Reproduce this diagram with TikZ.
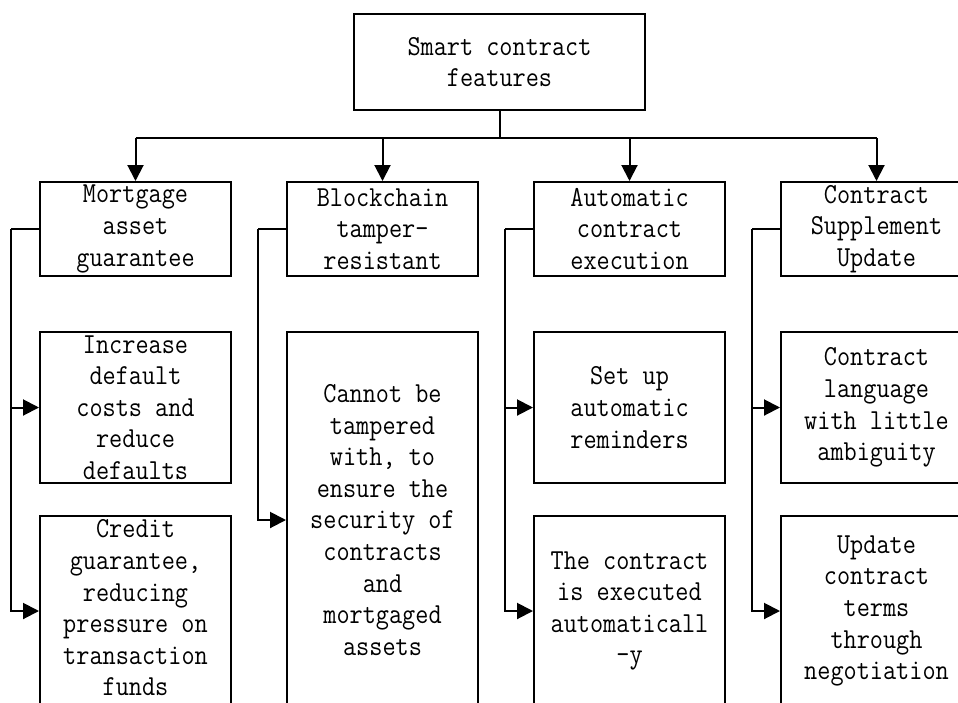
\documentclass[tikz,border=0pt]{standalone}
\usepackage{fontspec}
\newfontfamily\reffont{Latin Modern Mono}[FakeStretch=0.88]
\usetikzlibrary{arrows.meta}
\begin{document}
\begin{tikzpicture}[x=1pt,y=-1pt,
  box/.style={draw=black, line width=2pt, rectangle, inner sep=0pt, minimum width=191pt},
  txt/.style={align=center, inner sep=0pt, font=\reffont\fontsize{29}{31.6}\selectfont},
  line/.style={line width=2pt},
  arr/.style={line width=2pt, -{Triangle[length=16pt,width=16pt]}}]
\useasboundingbox (0,0) rectangle (958,702);

% top
\node[box, minimum width=291pt, minimum height=96pt] (top) at (499.5,62) {};
\node[txt] (ttop) at (top) {Smart contract\\features};

% first row
\node[box, minimum height=94pt] (a1) at (135.5,229) {};
\node[box, minimum height=94pt] (a2) at (382.5,229) {};
\node[box, minimum height=94pt] (a3) at (629.5,229) {};
\node[box, minimum height=94pt] (a4) at (876.5,229) {};
\node[txt] (ta1) at (a1) {Mortgage\\asset\\guarantee};
\node[txt] (ta2) at (a2) {Blockchain\\tamper-\\resistant};
\node[txt] (ta3) at (a3) {Automatic\\contract\\execution};
\node[txt] (ta4) at (a4) {Contract\\Supplement\\Update};

% second / third rows
\node[box, minimum height=151pt] (b12) at (135.5,407.5) {};
\node[box, minimum height=190pt] (b13) at (135.5,611) {};
\node[box, minimum height=376pt] (b22) at (382.5,520) {};
\node[box, minimum height=151pt] (b32) at (629.5,407.5) {};
\node[box, minimum height=190pt] (b33) at (629.5,611) {};
\node[box, minimum height=151pt] (b42) at (876.5,407.5) {};
\node[box, minimum height=190pt] (b43) at (876.5,611) {};

\node[txt] (tb12) at (b12) {Increase\\default\\costs and\\reduce\\defaults};
\node[txt] (tb13) at ([yshift=3pt]b13.center) {Credit\\guarantee,\\reducing\\pressure on\\transaction\\funds};
\node[txt] (tb22) at (b22) {Cannot be\\tampered\\with, to\\ensure the\\security of\\contracts\\and\\mortgaged\\assets};
\node[txt] (tb32) at (b32) {Set up\\automatic\\reminders};
\node[txt] (tb33) at (b33) {The contract\\is executed\\automaticall\\-y};
\node[txt] (tb42) at (b42) {Contract\\language\\with little\\ambiguity};
\node[txt] (tb43) at (b43) {Update\\contract\\terms\\through\\negotiation};

% trunk and bus
\coordinate (bus) at (499.5,138);
\draw[line] (top.south) -- (bus);
\draw[line] (a1.north |- bus) -- (a4.north |- bus);
\draw[arr] (a1.north |- bus) -- (a1.north);
\draw[arr] (a2.north |- bus) -- (a2.north);
\draw[arr] (a3.north |- bus) -- (a3.north);
\draw[arr] (a4.north |- bus) -- (a4.north);

% side branches
\coordinate (l1) at ([xshift=-28pt]a1.west);
\coordinate (l2) at ([xshift=-28pt]a2.west);
\coordinate (l3) at ([xshift=-28pt]a3.west);
\coordinate (l4) at ([xshift=-28pt]a4.west);
\draw[line] (a1.west) -- (l1);
\draw[line] (a2.west) -- (l2);
\draw[line] (a3.west) -- (l3);
\draw[line] (a4.west) -- (l4);
\draw[arr] (l1) |- (b12.west);
\draw[arr] (l1) |- (b13.west);
\draw[arr] (l2) |- (b22.west);
\draw[arr] (l3) |- (b32.west);
\draw[arr] (l3) |- (b33.west);
\draw[arr] (l4) |- (b42.west);
\draw[arr] (l4) |- (b43.west);
\end{tikzpicture}
\end{document}
